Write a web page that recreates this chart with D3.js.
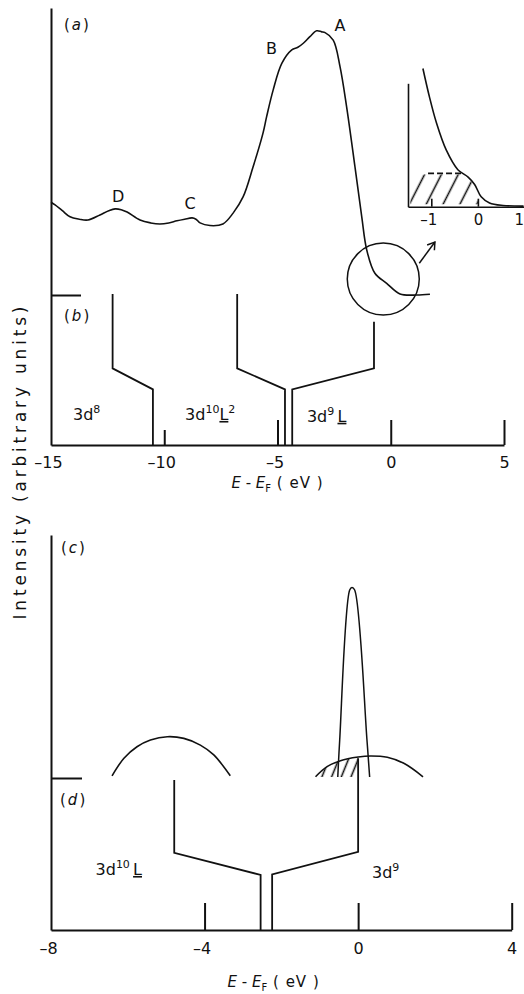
<!DOCTYPE html>
<html>
<head>
<meta charset="utf-8">
<script src="https://cdn.jsdelivr.net/npm/d3@7"></script>
<style>
  html, body { margin: 0; padding: 0; background: #fff; }
  svg { display: block; }
  text { font-family: "DejaVu Sans", "Noto Sans", sans-serif; fill: #111; }
</style>
</head>
<body>
<svg id="chart" width="524" height="994"></svg>
<script>
// ---------- (a) valence-band spectrum ----------
const spectrumE = [-15.0, -14.82, -14.5, -14.16, -13.75, -13.37, -12.84, -12.45, -12.17, -11.9, -11.64, -11.07, -10.6, -10.19, -9.8, -9.44,
  -9.1, -8.77, -8.6, -8.42, -7.98, -7.41, -6.96, -6.52, -6.08, -5.64, -5.48, -5.19, -4.81, -4.37,
  -4.1, -3.86, -3.57, -3.27, -3.05, -2.9, -2.54, -2.24, -1.95, -1.58, -1.28, -1.06, -0.70, -0.18, 0.41, 1.15, 1.73];
const spectrumI = [0.350, 0.340, 0.318, 0.295, 0.286, 0.283, 0.302, 0.318, 0.325, 0.322, 0.313, 0.283, 0.272, 0.268, 0.272, 0.280,
  0.286, 0.291, 0.286, 0.272, 0.262, 0.268, 0.309, 0.370, 0.483, 0.611, 0.673, 0.774, 0.874, 0.925,
  0.935, 0.950, 0.975, 0.997, 0.993, 0.990, 0.962, 0.862, 0.711, 0.484, 0.295, 0.170, 0.082, 0.044, 0.004, 0.000, 0.003];
const peakNames = ["A", "B", "C", "D"];
const peakLabelE = [-2.24, -5.26, -8.86, -12.04];
const peakLabelI = [0.996, 0.909, 0.325, 0.351];
// circled region near E_F that is enlarged in the inset
const zoomCircleE = -0.33, zoomCircleI = 0.06;
const arrowFromE = 1.26, arrowFromI = 0.12, arrowToE = 1.95, arrowToI = 0.20;

// ---------- inset: edge near E_F ----------
const insetE = [-1.18, -1.04, -0.89, -0.68, -0.43, -0.21, -0.07, 0.07, 0.25, 0.54, 0.98];
const insetI = [1.12, 0.89, 0.68, 0.46, 0.30, 0.24, 0.18, 0.08, 0.03, 0.01, 0.005];
const insetTicks = [-1, 0, 1];
const insetDashLevel = 0.27, insetDashFromE = -1.07, insetDashToE = -0.36;
const insetHatchFromE = -1.45, insetHatchToE = 0;

// ---------- (b) configuration levels, wide energy range ----------
const configB = ["3d8", "3d10L2", "3d9L"];
const upperE_B = [-12.28, -6.78, -0.74];
const lowerE_B = [-10.5, -4.67, -4.35];
const topLevelB = [1.007, 1.007, 0.822];
const kneeUpperB = [0.511, 0.511, 0.511];
const kneeLowerB = [0.371, 0.371, 0.371];
const configLabelE_B = [-14.03, -9.08, -3.70];
const configLabelI_B = [0.167, 0.167, 0.155];
const ticksTop = [-15, -10, -5, 0, 5];

// ---------- (c) model density of states ----------
const peakNarrowE = [-0.53, -0.48, -0.22, -0.16, -0.09, 0.23, 0.30];
const peakNarrowI = [0.0, 0.154, 0.779, 0.790, 0.779, 0.154, 0.0];
const bandLeftE = [-6.41, -6.10, -5.76, -5.41, -4.97, -4.54, -4.11, -3.76, -3.33];
const bandLeftI = [0.005, 0.078, 0.126, 0.154, 0.168, 0.161, 0.133, 0.092, 0.005];
const bandRightE = [-1.11, -0.81, -0.46, 0.0, 0.32, 0.76, 1.19, 1.69];
const bandRightI = [0.001, 0.043, 0.068, 0.083, 0.0875, 0.082, 0.057, 0.001];

// ---------- (d) configuration levels, narrow energy range ----------
const configD = ["3d10L", "3d9"];
const upperE_D = [-4.79, 0.0];
const lowerE_D = [-2.54, -2.24];
const topLevelD = [0.987, 1.13];
const kneeUpperD = [0.508, 0.514];
const kneeLowerD = [0.362, 0.366];
const configLabelE_D = [-6.84, 0.36];
const configLabelI_D = [0.362, 0.342];
const ticksBottom = [-8, -4, 0, 4];

// ---------- drawing ----------
const svg = d3.select("#chart");
const ink = "#111";

// scales
const xTop = d3.scaleLinear().domain([-15, 5]).range([51, 504]);
const yA = d3.scaleLinear().domain([0, 1]).range([295, 30]);
const yB = d3.scaleLinear().domain([0, 1]).range([445, 295]);
const xIn = d3.scaleLinear().domain([-1.5, 1]).range([408, 524.5]);
const yIn = d3.scaleLinear().domain([0, 1]).range([206.7, 83.3]);
const xBot = d3.scaleLinear().domain([-8, 4]).range([51, 511.7]);
const yC = d3.scaleLinear().domain([0, 1]).range([777, 537]);
const yD = d3.scaleLinear().domain([0, 1]).range([930, 778]);

const defs = svg.append("defs");
defs.append("marker").attr("id", "arrowHead").attr("viewBox", "-8 -6 10 12")
  .attr("refX", 0).attr("refY", 0).attr("markerWidth", 10).attr("markerHeight", 12)
  .attr("markerUnits", "userSpaceOnUse").attr("orient", "auto")
  .append("path").attr("d", "M-7,-4.5L0,0L-7,4.5").attr("fill", "none")
  .attr("stroke", ink).attr("stroke-width", 1.5);

function hatchPattern(id, gap, angle, width) {
  const p = defs.append("pattern").attr("id", id).attr("patternUnits", "userSpaceOnUse")
    .attr("width", gap).attr("height", gap).attr("patternTransform", `rotate(${angle})`);
  p.append("line").attr("x1", gap / 2).attr("x2", gap / 2).attr("y1", 0).attr("y2", gap)
    .attr("stroke", ink).attr("stroke-width", width);
}
hatchPattern("hatchInset", 15, 27, 1.6);
hatchPattern("hatchBand", 9, 22, 1.6);

function axisStyle(g, w) {
  g.selectAll("path.domain").attr("stroke", ink).attr("stroke-width", w);
  g.selectAll(".tick line").attr("stroke", ink).attr("stroke-width", w);
  g.selectAll("text").attr("fill", ink);
}
const dashFmt = d => (d < 0 ? "\u2013" + Math.abs(d) : String(d));

// ----- upper frame: y axis line and separator tick between (a) and (b)
const yTopFrame = d3.scaleLinear().domain([0, 1]).range([445, 8]);
const gYTop = svg.append("g").attr("transform", `translate(${xTop(-15)},0)`)
  .call(d3.axisRight(yTopFrame).tickValues([yTopFrame.invert(yA(0))]).tickSize(30)
    .tickSizeOuter(0).tickFormat(""));
axisStyle(gYTop, 2);

// ----- (b) bottom axis
const gXTop = svg.append("g").attr("transform", `translate(0,${yB(0)})`)
  .call(d3.axisBottom(xTop).tickValues(ticksTop).tickSize(-25).tickSizeOuter(0)
    .tickPadding(12).tickFormat(dashFmt));
axisStyle(gXTop, 2);
gXTop.selectAll(".tick").filter(d => d === -10).select("line").attr("y2", -15);
gXTop.selectAll(".tick").filter(d => d === -15).select("line").remove();
gXTop.selectAll("text").attr("font-size", 16).attr("dx", d => (d < 0 ? -3 : 0))
  .attr("font-family", "DejaVu Sans, sans-serif");

// ----- (a) spectrum
const lineA = d3.line().x(d => xTop(d[0])).y(d => yA(d[1])).curve(d3.curveCatmullRom.alpha(0.5));
svg.append("path").datum(d3.zip(spectrumE, spectrumI)).attr("d", lineA)
  .attr("fill", "none").attr("stroke", ink).attr("stroke-width", 1.6);

svg.selectAll("text.peak").data(peakNames).join("text").attr("class", "peak")
  .attr("x", (d, i) => xTop(peakLabelE[i])).attr("y", (d, i) => yA(peakLabelI[i]))
  .attr("text-anchor", "middle").attr("font-size", 16).text(d => d);

svg.append("circle").attr("cx", xTop(zoomCircleE)).attr("cy", yA(zoomCircleI)).attr("r", 36)
  .attr("fill", "none").attr("stroke", ink).attr("stroke-width", 1.5);
svg.append("line")
  .attr("x1", xTop(arrowFromE)).attr("y1", yA(arrowFromI))
  .attr("x2", xTop(arrowToE)).attr("y2", yA(arrowToI))
  .attr("stroke", ink).attr("stroke-width", 1.5).attr("marker-end", "url(#arrowHead)");

// ----- inset
const insetCurve = d3.scaleLinear().domain(insetE).range(insetI).clamp(true);
const hatchE = [insetHatchFromE, insetDashFromE, -0.6, insetDashToE, -0.21, -0.07, insetHatchToE];
const insetArea = d3.area().x(d => xIn(d)).y0(yIn(0.02))
  .y1(d => yIn(Math.min(insetDashLevel, insetCurve(d)) - 0.01));
defs.append("clipPath").attr("id", "clipInset").append("path").attr("d", insetArea(hatchE));
svg.append("rect").attr("x", xIn(-1.5)).attr("y", yIn(0.4)).attr("width", xIn(0.2) - xIn(-1.5))
  .attr("height", yIn(0) - yIn(0.4)).attr("fill", "url(#hatchInset)").attr("clip-path", "url(#clipInset)");

svg.append("line").attr("x1", xIn(insetDashFromE)).attr("x2", xIn(insetDashToE))
  .attr("y1", yIn(insetDashLevel)).attr("y2", yIn(insetDashLevel))
  .attr("stroke", ink).attr("stroke-width", 1.8).attr("stroke-dasharray", "6,3");

const gInY = svg.append("g").attr("transform", `translate(${xIn(-1.5)},0)`)
  .call(d3.axisLeft(yIn).tickValues([]).tickSizeOuter(0));
axisStyle(gInY, 1.6);
const gInX = svg.append("g").attr("transform", `translate(0,${yIn(0)})`)
  .call(d3.axisBottom(xIn).tickValues(insetTicks).tickSize(-8).tickSizeOuter(0)
    .tickPadding(8).tickFormat(dashFmt));
axisStyle(gInX, 1.6);
gInX.selectAll("text").attr("font-size", 15).attr("dx", d => (d < 0 ? -3 : 0))
  .attr("font-family", "DejaVu Sans, sans-serif");
// the last label sits against the right edge of the page
gInX.selectAll(".tick").filter(d => d === 1).select("text").attr("text-anchor", "end").attr("dx", -1);

const lineIn = d3.line().x(d => xIn(d[0])).y(d => yIn(d[1])).curve(d3.curveCatmullRom.alpha(0.5));
svg.append("path").datum(d3.zip(insetE, insetI)).attr("d", lineIn)
  .attr("fill", "none").attr("stroke", ink).attr("stroke-width", 1.6);

// ----- (b) level brackets
const bracket = (xs, ys, i, top, ku, kl, up, lo) => [
  [xs(up[i]), ys(top[i])], [xs(up[i]), ys(ku[i])], [xs(lo[i]), ys(kl[i])], [xs(lo[i]), ys(0)]
];
svg.selectAll("path.bracketB").data(configB).join("path").attr("class", "bracketB")
  .attr("d", (d, i) => d3.line()(bracket(xTop, yB, i, topLevelB, kneeUpperB, kneeLowerB, upperE_B, lowerE_B)))
  .attr("fill", "none").attr("stroke", ink).attr("stroke-width", 1.8);

function configLabel(sel, spec) {
  spec.forEach(p => {
    const ts = sel.append("tspan").text(p.t);
    if (p.sup) ts.attr("dy", -7).attr("font-size", 11);
    if (p.down) ts.attr("dy", 7);
    if (p.u) ts.attr("text-decoration", "underline");
  });
}
const labelParts = {
  "3d8": [{ t: "3d" }, { t: "8", sup: true }],
  "3d10L2": [{ t: "3d" }, { t: "10", sup: true }, { t: "L", down: true, u: true }, { t: "2", sup: true }],
  "3d9L": [{ t: "3d" }, { t: "9", sup: true }, { t: "\u2009", down: true }, { t: "L", u: true }],
  "3d10L": [{ t: "3d" }, { t: "10", sup: true }, { t: "\u2009", down: true }, { t: "L", u: true }],
  "3d9": [{ t: "3d" }, { t: "9", sup: true }]
};
configB.forEach((c, i) => {
  const t = svg.append("text").attr("x", xTop(configLabelE_B[i])).attr("y", yB(configLabelI_B[i]))
    .attr("font-size", 16);
  configLabel(t, labelParts[c]);
});

// axis title
function axisTitle(x, y) {
  const t = svg.append("text").attr("x", x).attr("y", y).attr("text-anchor", "middle").attr("font-size", 15);
  t.append("tspan").attr("font-style", "italic").text("E");
  t.append("tspan").text(" - ");
  t.append("tspan").attr("font-style", "italic").text("E");
  t.append("tspan").attr("dy", 4).attr("font-size", 10).text("F");
  t.append("tspan").attr("dy", -4).attr("letter-spacing", 1).text("  ( eV )");
}
axisTitle(xTop(-5), 488);

// ----- lower frame
const yBotFrame = d3.scaleLinear().domain([0, 1]).range([930, 535]);
const gYBot = svg.append("g").attr("transform", `translate(${xBot(-8)},0)`)
  .call(d3.axisRight(yBotFrame).tickValues([yBotFrame.invert(yD(1))]).tickSize(31)
    .tickSizeOuter(0).tickFormat(""));
axisStyle(gYBot, 2);

const gXBot = svg.append("g").attr("transform", `translate(0,${yD(0)})`)
  .call(d3.axisBottom(xBot).tickValues(ticksBottom).tickSize(-27).tickSizeOuter(0)
    .tickPadding(13).tickFormat(dashFmt));
axisStyle(gXBot, 2);
gXBot.selectAll(".tick").filter(d => d === -8).select("line").remove();
gXBot.selectAll("text").attr("font-size", 16).attr("dx", d => (d < 0 ? -3 : 0))
  .attr("font-family", "DejaVu Sans, sans-serif");
axisTitle(xBot(-2.2), 987);

// ----- (c) curves
const lineC = d3.line().x(d => xBot(d[0])).y(d => yC(d[1])).curve(d3.curveCatmullRom.alpha(0.5));
const rightAreaE = bandRightE.filter(e => e <= 0);
const bandArea = d3.area().x(d => xBot(d[0])).y0(yC(0)).y1(d => yC(d[1])).curve(d3.curveCatmullRom.alpha(0.5));
svg.append("path").datum(d3.zip(rightAreaE, bandRightI.slice(0, rightAreaE.length)))
  .attr("d", bandArea).attr("fill", "url(#hatchBand)");
svg.append("path").datum(d3.zip(bandLeftE, bandLeftI)).attr("d", lineC)
  .attr("fill", "none").attr("stroke", ink).attr("stroke-width", 1.6);
svg.append("path").datum(d3.zip(bandRightE, bandRightI)).attr("d", lineC)
  .attr("fill", "none").attr("stroke", ink).attr("stroke-width", 1.6);
svg.append("path").datum(d3.zip(peakNarrowE, peakNarrowI)).attr("d", lineC)
  .attr("fill", "none").attr("stroke", ink).attr("stroke-width", 1.5);

// ----- (d) level brackets
svg.selectAll("path.bracketD").data(configD).join("path").attr("class", "bracketD")
  .attr("d", (d, i) => d3.line()(bracket(xBot, yD, i, topLevelD, kneeUpperD, kneeLowerD, upperE_D, lowerE_D)))
  .attr("fill", "none").attr("stroke", ink).attr("stroke-width", 1.8);
configD.forEach((c, i) => {
  const t = svg.append("text").attr("x", xBot(configLabelE_D[i])).attr("y", yD(configLabelI_D[i]))
    .attr("font-size", 16);
  configLabel(t, labelParts[c]);
});

// ----- panel letters
function panelLetter(x, y, letter) {
  const t = svg.append("text").attr("x", x).attr("y", y).attr("font-size", 15);
  t.append("tspan").text("(");
  t.append("tspan").attr("font-style", "italic").attr("dx", 2).text(letter);
  t.append("tspan").attr("dx", 2).text(")");
}
panelLetter(xTop(-15) + 13, yA(1), "a");
panelLetter(xTop(-15) + 13, yB(1) + 26, "b");
panelLetter(xBot(-8) + 10, yBotFrame(1) + 18, "c");
panelLetter(xBot(-8) + 9, yD(1) + 27, "d");

// ----- shared y-axis title
svg.append("text").attr("transform", `translate(26,463) rotate(-90)`)
  .attr("text-anchor", "middle").attr("font-size", 17)
  .attr("textLength", 313).attr("lengthAdjust", "spacing")
  .text("Intensity (arbitrary units)");
</script>
</body>
</html>
